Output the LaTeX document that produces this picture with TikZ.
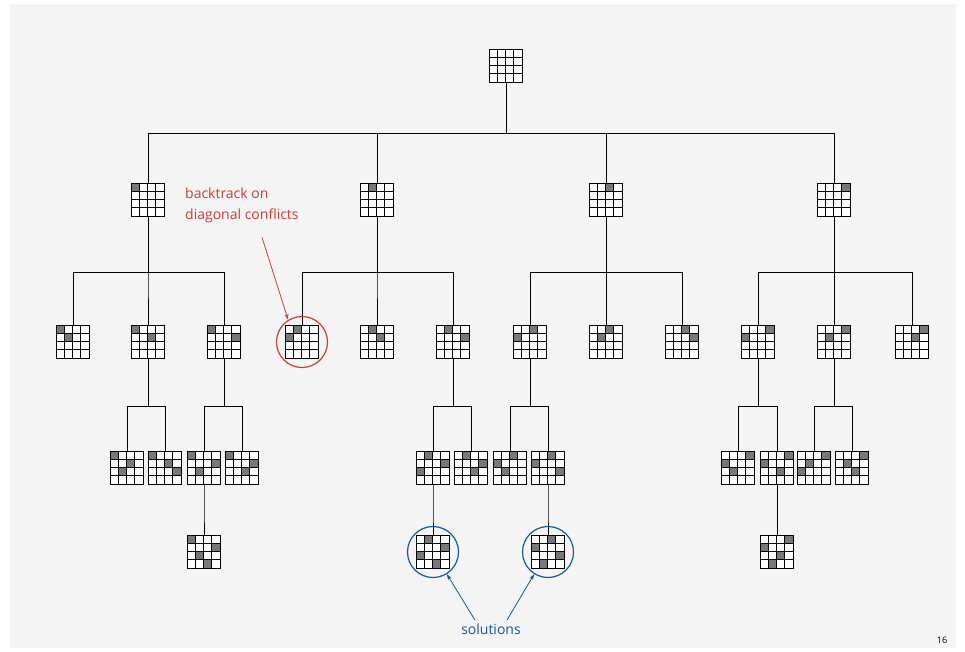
\documentclass[tikz,border=0pt]{standalone}
\usepackage{fontspec}
\setmainfont{Open Sans}
\usetikzlibrary{arrows.meta}
\definecolor{slidebg}{RGB}{244,244,244}
\definecolor{btred}{RGB}{200,62,52}
\definecolor{solblue}{RGB}{22,88,156}
\definecolor{qgray}{RGB}{120,120,120}
\begin{document}
\begin{tikzpicture}[x=1pt,y=-1pt,
    board/.style={minimum size=32pt,inner sep=0pt,fill=white},
    queen/.style={fill=qgray},
    edge/.style={line width=0.8pt},
    ring/.style={circle,line width=1.2pt,minimum size=51pt,inner sep=0pt},
    tip/.style={-{Stealth[length=6pt,width=4pt]},line width=0.8pt},
    note/.style={font=\fontsize{14}{21}\selectfont}]
    \useasboundingbox (0,0) rectangle (965,651);
    \fill[white] (0,0) rectangle (965,651);
    \fill[slidebg] (10,4) rectangle (956,648);
    % boards: name/x/y/queen column of each row
    \foreach \n/\x/\y/\q in
        {r/506/66/{9},
        a/148/200/{0}, b/377/200/{1}, c/606/200/{2}, d/834/200/{3},
        aa/73/342/{0,1}, ab/148/342/{0,2}, ac/224/342/{0,3},
        ba/302/342/{1,0}, bb/377/342/{1,2}, bc/453/342/{1,3},
        ca/530/342/{2,0}, cb/606/342/{2,1}, cc/682/342/{2,3},
        da/758/342/{3,0}, db/834/342/{3,1}, dc/912/342/{3,2},
        aba/127/468/{0,2,1}, abb/165/468/{0,2,3}, aca/204/468/{0,3,1}, acb/242/468/{0,3,2},
        bca/433/468/{1,3,0}, bcb/471/468/{1,3,2}, caa/510/468/{2,0,1}, cab/548/468/{2,0,3},
        daa/738/468/{3,0,1}, dab/777/468/{3,0,2}, dba/814/468/{3,1,0}, dbb/852/468/{3,1,2},
        acaa/204/552/{0,3,1,2}, bcaa/433/552/{1,3,0,2}, caba/548/552/{2,0,3,1}, daba/777/552/{3,0,2,1}}
    {\node[board] (\n) at (\x,\y) {};
    \foreach \c [count=\row from 0] in \q
        {\ifnum\c<4 \fill[queen,shift={(\n.north west)}] (\c*8,\row*8) rectangle ++(8,8);\fi}
    \foreach \i in {8,16,24}
        {\draw[line width=1pt,shift={(\n.north west)}] (\i,0) -- (\i,32) (0,\i) -- (32,\i);}
    \draw[line width=1.2pt] (\n.north west) rectangle (\n.south east);
    }
    % tree edges: parent/child/height of the bar
    \foreach \p/\c/\b in
        {r/a/133, r/b/133, r/c/133, r/d/133,
        a/aa/272, a/ab/272, a/ac/272, b/ba/272, b/bb/272, b/bc/272,
        c/ca/272, c/cb/272, c/cc/272, d/da/272, d/db/272, d/dc/272,
        ab/aba/406, ab/abb/406, ac/aca/406, ac/acb/406,
        bc/bca/406, bc/bcb/406, ca/caa/406, ca/cab/406,
        da/daa/406, da/dab/406, db/dba/406, db/dbb/406,
        aca/acaa/510, bca/bcaa/510, cab/caba/510, dab/daba/510}
    {\draw[edge] (\p.south) -- (\p.south |- 0,\b) -| (\c.north);}
    \node[ring,draw=btred] (bt) at (ba) {};
    \node[ring,draw=solblue] (s1) at (bcaa) {};
    \node[ring,draw=solblue] (s2) at (caba) {};
    \node[note,text=btred,align=left,anchor=north west,inner sep=2pt] (btl) at (183,186) {backtrack on\\diagonal conflicts};
    \draw[tip,btred] ([xshift=79pt,yshift=-12pt]btl.south west) -- (bt.122);
    \node[note,text=solblue] (sol) at (491,629) {solutions};
    \draw[tip,solblue] ([xshift=-16pt]sol.north) -- (s1.-58);
    \draw[tip,solblue] ([xshift=16pt]sol.north) -- (s2.-122);
    \node[font=\fontsize{9}{10}\selectfont] (pg) at (942,640) {16};
\end{tikzpicture}
\end{document}
